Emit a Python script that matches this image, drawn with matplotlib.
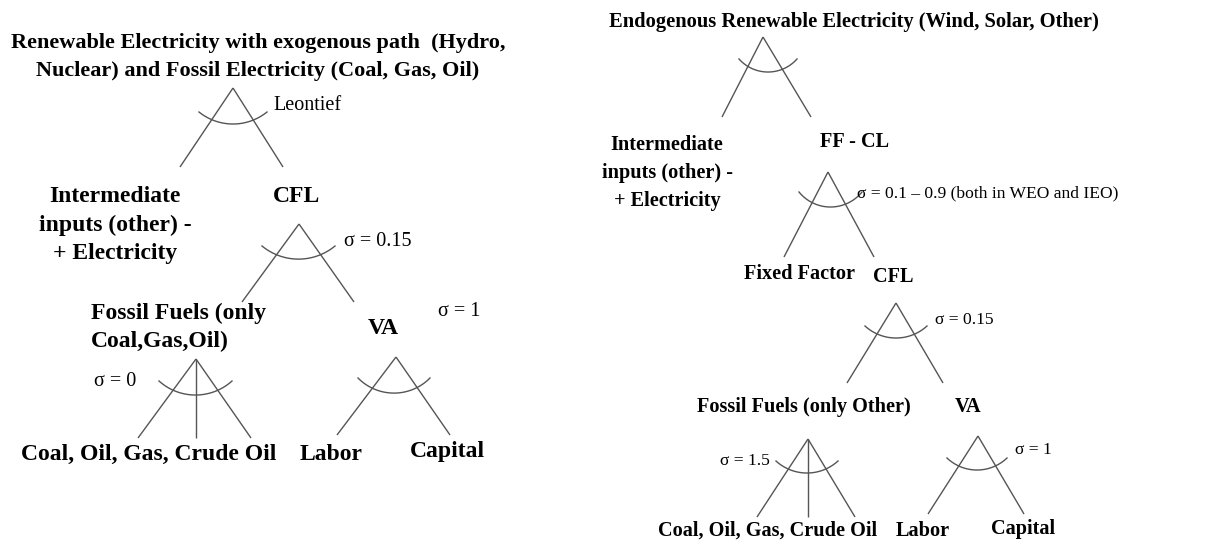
import numpy as np
import matplotlib
matplotlib.use("Agg")
import matplotlib.pyplot as plt

plt.rcParams["font.family"] = ["Liberation Serif", "DejaVu Serif"]

# ---- text content ----
left_title = ["Renewable Electricity with exogenous path  (Hydro,",
              "Nuclear) and Fossil Electricity (Coal, Gas, Oil)"]
right_title = "Endogenous Renewable Electricity (Wind, Solar, Other)"
interm_label = ["Intermediate", "inputs (other) -", "+ Electricity"]
fossil_left = ["Fossil Fuels (only", "Coal,Gas,Oil)"]
fossil_right = "Fossil Fuels (only Other)"
leaf_fuels = "Coal, Oil, Gas, Crude Oil"
leaf_labor = "Labor"
leaf_capital = "Capital"
elasticities_left = ["Leontief", "σ = 0.15", "σ = 0", "σ = 1"]
elasticities_right = ["σ = 0.1 – 0.9 (both in WEO and IEO)", "σ = 0.15", "σ = 1.5", "σ = 1"]

BOLD = dict(family="Liberation Serif", weight="bold", color="black")
REG = dict(family="Liberation Serif", color="black")
LC = "#555555"
LW = 1.0

fig = plt.figure(figsize=(12.10, 5.43), dpi=100)
ax = fig.add_axes([0, 0, 1, 1])
ax.set_xlim(0, 1210)
ax.set_ylim(543, 0)
ax.axis("off")


def nest(apex, feet, arc_l, arc_r, arc_bottom):
    for f in feet:
        ax.plot([apex[0], f[0]], [apex[1], f[1]], color=LC, lw=LW, solid_capstyle="butt")
    (x1, y1), (x2, y2), (x3, y3) = arc_l, arc_bottom, arc_r
    A = np.array([[x2 - x1, y2 - y1], [x3 - x1, y3 - y1]]) * 2
    b = np.array([x2**2 - x1**2 + y2**2 - y1**2, x3**2 - x1**2 + y3**2 - y1**2])
    cx, cy = np.linalg.solve(A, b)
    r = np.hypot(x1 - cx, y1 - cy)
    a1 = np.arctan2(y1 - cy, x1 - cx)
    a3 = np.arctan2(y3 - cy, x3 - cx)
    t = np.linspace(a1, a3, 60)
    ax.plot(cx + r * np.cos(t), cy + r * np.sin(t), color=LC, lw=LW)


FS_T = 16.0   # left title
FS = 17.0     # left bold labels
FSS = 14.5    # left sigma labels
RFS_T = 14.8  # right title
RFS = 14.6    # right bold labels
RFSS = 12.6   # right sigma labels

# ================= LEFT =================
ax.text(258, 43, left_title[0], ha="center", va="center", fontsize=FS_T, **BOLD)
ax.text(258, 71, left_title[1], ha="center", va="center", fontsize=FS_T, **BOLD)
nest((233, 88), [(180, 167), (283, 167)], (199, 112), (267, 112), (233, 124))
ax.text(273, 106, elasticities_left[0], ha="left", va="center", fontsize=FSS, **REG)

for i, s in enumerate(interm_label):
    ax.text(115, 197 + 28.5 * i, s, ha="center", va="center", fontsize=FS, **BOLD)
ax.text(296, 197, "CFL", ha="center", va="center", fontsize=FS, **BOLD)

nest((299, 224), [(242, 302), (354, 302)], (262, 246), (335, 246), (302, 259))
ax.text(344, 242, elasticities_left[1], ha="left", va="center", fontsize=FSS, **REG)

ax.text(91, 313, fossil_left[0], ha="left", va="center", fontsize=FS, **BOLD)
ax.text(91, 341, fossil_left[1], ha="left", va="center", fontsize=FS, **BOLD)
ax.text(383, 329, "VA", ha="center", va="center", fontsize=FS, **BOLD)
ax.text(438, 312, elasticities_left[3], ha="left", va="center", fontsize=FSS, **REG)

nest((196, 359), [(138, 438), (196, 438), (251, 438)], (159, 381), (232, 381), (197, 395))
ax.text(94, 381, elasticities_left[2], ha="left", va="center", fontsize=FSS, **REG)
nest((396, 357), [(337, 435), (450, 435)], (358, 378), (430, 378), (397, 393))

ax.text(149, 454, leaf_fuels, ha="center", va="center", fontsize=FS, **BOLD)
ax.text(331, 454, leaf_labor, ha="center", va="center", fontsize=FS, **BOLD)
ax.text(447, 452, leaf_capital, ha="center", va="center", fontsize=FS, **BOLD)

# ================= RIGHT =================
ax.text(854, 22, right_title, ha="center", va="center", fontsize=RFS_T, **BOLD)
nest((763, 37), [(722, 117), (811, 117)], (739, 59), (797, 59), (767, 72))

for i, s in enumerate(interm_label):
    ax.text(667, 145 + 28 * i, s, ha="center", va="center", fontsize=RFS, **BOLD)
ax.text(855, 142, "FF - CL", ha="center", va="center", fontsize=RFS, **BOLD)

nest((828, 172), [(784, 257), (874, 257)], (799, 192), (862, 192), (830, 207))
ax.text(857, 193, elasticities_right[0], ha="left", va="center", fontsize=RFSS, **REG)

ax.text(800, 274, "Fixed Factor", ha="center", va="center", fontsize=RFS, **BOLD)
ax.text(893, 277, "CFL", ha="center", va="center", fontsize=RFS, **BOLD)

nest((896, 303), [(847, 383), (943, 383)], (865, 326), (927, 326), (895, 338))
ax.text(935, 320, elasticities_right[1], ha="left", va="center", fontsize=RFSS, **REG)

ax.text(804, 407, fossil_right, ha="center", va="center", fontsize=RFS, **BOLD)
ax.text(968, 407, "VA", ha="center", va="center", fontsize=RFS, **BOLD)

nest((808, 439), [(757, 517), (808, 517), (855, 517)], (776, 461), (838, 461), (808, 473))
ax.text(720, 461, elasticities_right[2], ha="left", va="center", fontsize=RFSS, **REG)
nest((978, 436), [(928, 514), (1024, 514)], (947, 458), (1007, 458), (978, 470))
ax.text(1015, 450, elasticities_right[3], ha="left", va="center", fontsize=RFSS, **REG)

ax.text(768, 531, leaf_fuels, ha="center", va="center", fontsize=RFS, **BOLD)
ax.text(923, 531, leaf_labor, ha="center", va="center", fontsize=RFS, **BOLD)
ax.text(1023, 529, leaf_capital, ha="center", va="center", fontsize=RFS, **BOLD)

fig.savefig("out.png", dpi=100, facecolor="white")
